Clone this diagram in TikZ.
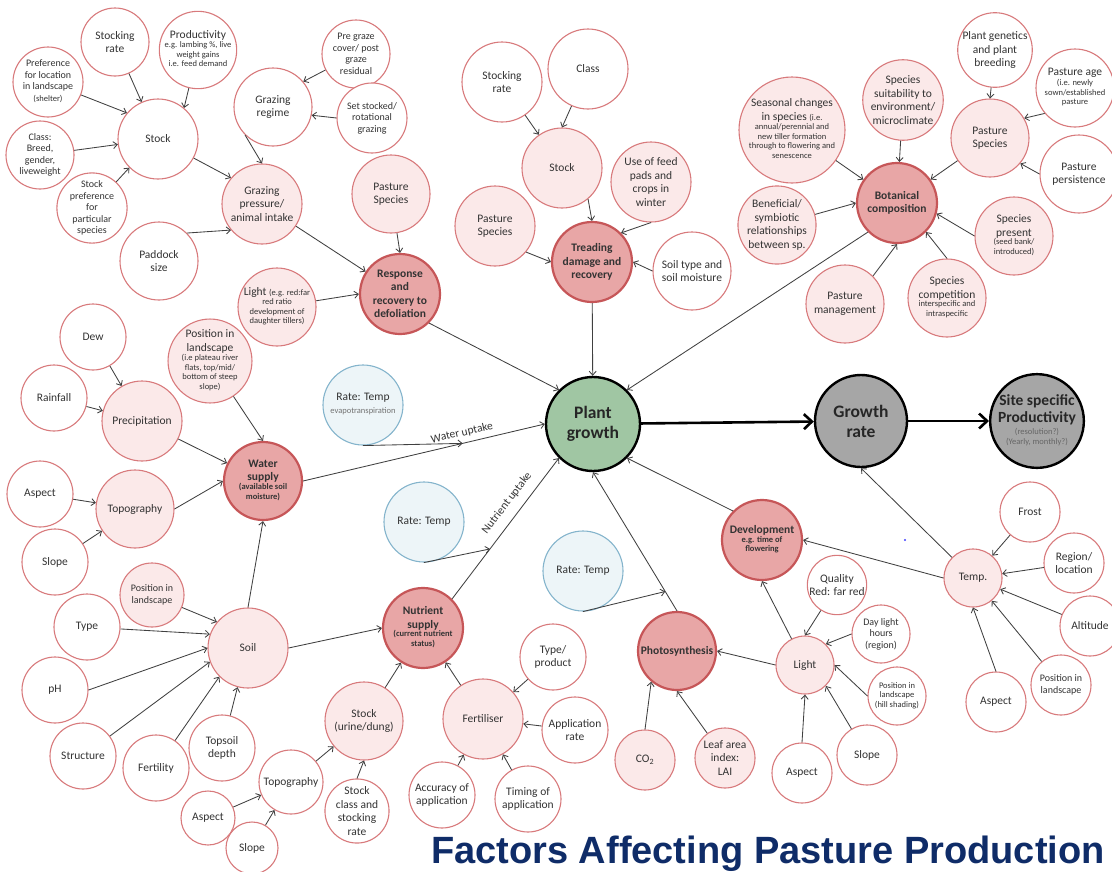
\documentclass[tikz,border=0pt]{standalone}
\usepackage{fontspec}
\setmainfont{Carlito}
\newfontfamily\titlefont{Liberation Sans}
\usetikzlibrary{arrows.meta}

\definecolor{pinkline}{RGB}{216,122,124}
\definecolor{pinkfill}{RGB}{251,233,233}
\definecolor{keyfill}{RGB}{232,166,166}
\definecolor{keyline}{RGB}{198,86,88}
\definecolor{ratefill}{RGB}{237,245,248}
\definecolor{rateline}{RGB}{132,180,204}
\definecolor{plantfill}{RGB}{160,198,163}
\definecolor{greyfill}{RGB}{166,166,166}
\definecolor{arrowgrey}{RGB}{64,64,64}
\definecolor{titleblue}{RGB}{15,44,104}

\newcommand{\mainfnt}{\fontsize{11.5}{13.5}\selectfont}
\newcommand{\midfnt}{\fontsize{10}{11.5}\selectfont}
\newcommand{\smtxt}{\fontsize{8.5}{9.5}\selectfont}
\newcommand{\smblk}[1]{{\smtxt\begin{tabular}{@{}c@{}}#1\end{tabular}}}

\begin{document}
\begin{tikzpicture}[x=1pt,y=1pt,yscale=-1,xscale=1,
  every node/.style={align=center, inner sep=0pt, font=\mainfnt, text=black!80},
  leafnode/.style={circle, draw=pinkline, line width=1.1pt, fill=white, minimum size=#1},
  leafnode/.default=80pt,
  midnode/.style={leafnode=#1, fill=pinkfill},
  midnode/.default=80pt,
  keynode/.style={circle, draw=keyline, line width=2.2pt, fill=keyfill, minimum size=#1, font=\mainfnt\bfseries},
  keynode/.default=80pt,
  ratenode/.style={circle, draw=rateline, line width=1.1pt, fill=ratefill, minimum size=80pt},
  hubnode/.style={circle, draw=black, line width=2.4pt, minimum size=#1, text=black!85, font=\fontsize{17.5}{20}\selectfont\bfseries},
  hubnode/.default=92pt,
  flow/.style={-{Straight Barb[length=4pt,width=7pt]}, draw=arrowgrey, line width=0.85pt},
  mainflow/.style={-{Straight Barb[length=8pt,width=15pt]}, draw=black, line width=2.6pt}]
\useasboundingbox (0,0) rectangle (1112,871);

% Stock and grazing (top left)
\node[leafnode=68pt] (sra) at (115,42) {Stocking\\rate};
\node[leafnode=70pt] (prod) at (198,50) {Productivity\\\smblk{e.g. lambing \%, live\\weight gains\\i.e. feed demand}};
\node[leafnode=70pt, font=\midfnt] (pref) at (48,82) {Preference\\for location\\in landscape\\\smblk{(shelter)}};
\node[leafnode=80pt] (stka) at (158,139) {Stock};
\node[leafnode=68pt, font=\midfnt] (clsa) at (40,155) {Class:\\Breed,\\gender,\\liveweight};
\node[leafnode=70pt, font=\midfnt] (spref) at (92,208) {Stock\\preference\\for\\particular\\species};
\node[leafnode=78pt] (greg) at (273,107) {Grazing\\regime};
\node[leafnode=68pt, font=\midfnt] (pre) at (356,54) {Pre graze\\cover/ post\\graze\\residual};
\node[leafnode=70pt, font=\midfnt] (setst) at (372,118) {Set stocked/\\rotational\\grazing};
\node[midnode=80pt] (gpress) at (262,204) {Grazing\\pressure/\\animal intake};
\node[leafnode=78pt] (pad) at (159,261) {Paddock\\size};
\node[midnode=78pt] (psa) at (391,194) {Pasture\\Species};
\node[keynode] (resp) at (400,294) {Response\\and\\recovery to\\defoliation};
\node[midnode=78pt] (lighta) at (277,307) {Light {\smtxt (e.g. red:far}\\\smblk{red ratio\\development of\\daughter tillers)}};

% Treading (top middle)
\node[leafnode] (srb) at (502,82) {Stocking\\rate};
\node[leafnode] (clsb) at (588,69) {Class};
\node[midnode] (stkb) at (562,168) {Stock};
\node[midnode] (feed) at (651,182) {Use of feed\\pads and\\crops in\\winter};
\node[midnode] (psb) at (495,226) {Pasture\\Species};
\node[keynode] (tread) at (592,262) {Treading\\damage and\\recovery};
\node[leafnode=78pt] (soilt) at (692,271) {Soil type and\\soil moisture};

% Botanical composition (top right)
\node[leafnode=74pt] (gen) at (995,50) {Plant genetics\\and plant\\breeding};
\node[leafnode=78pt] (age) at (1075,88) {Pasture age\\\smblk{(i.e. newly\\sown/established\\pasture}};
\node[midnode=76pt] (suit) at (903,100) {Species\\suitability to\\environment/\\microclimate};
\node[midnode=92pt] (seas) at (792,130) {Seasonal changes\\in species {\smtxt (i.e.}\\\smblk{annual/perennial and\\new tiller formation\\through to flowering and\\senescence}};
\node[midnode=78pt] (psc) at (990,138) {Pasture\\Species};
\node[leafnode=78pt] (pers) at (1079,174) {Pasture\\persistence};
\node[keynode] (bot) at (897,203) {Botanical\\composition};
\node[midnode=78pt] (ben) at (777,225) {Beneficial/\\symbiotic\\relationships\\between sp.};
\node[midnode=78pt] (pres) at (1014,236) {Species\\present\\\smblk{(seed bank/\\introduced)}};
\node[midnode=78pt] (mgmt) at (845,304) {Pasture\\management};
\node[midnode=78pt] (comp) at (947,298) {Species\\competition\\\smblk{interspecific and\\intraspecific}};

% Water supply (left)
\node[leafnode=66pt] (dew) at (93,337) {Dew};
\node[leafnode=66pt] (rain) at (54,398) {Rainfall};
\node[midnode] (posw) at (210,361) {Position in\\landscape\\\smblk{(i.e plateau river\\flats, top/mid/\\bottom of steep\\slope)}};
\node[midnode] (prec) at (142,421) {Precipitation};
\node[ratenode] (ratea) at (363,405) {Rate: Temp\\\smblk{\color{black!55}evapotranspiration}};
\node[keynode=78pt] (water) at (263,481) {Water\\supply\\\smblk{(available soil\\moisture)}};
\node[leafnode=66pt] (aspa) at (40,494) {Aspect};
\node[midnode=78pt] (topa) at (135,509) {Topography};
\node[leafnode=66pt] (slpa) at (55,562) {Slope};

% Growth chain (centre)
\node[hubnode=94pt, fill=plantfill] (plant) at (593,424) {Plant\\growth};
\node[hubnode=92pt, fill=greyfill] (grow) at (861,421) {Growth\\rate};
\node[hubnode=90pt, fill=greyfill, font=\fontsize{15.5}{17}\selectfont\bfseries] (site) at (1037,421) {Site specific\\Productivity\\\smblk{\mdseries\color{black!60}(resolution?)\\\mdseries\color{black!60}(Yearly, monthly?)}};
\node[ratenode] (rateb) at (424,522) {Rate: Temp};
\node[ratenode] (ratec) at (583,571) {Rate: Temp};

% Development and temperature (right)
\node[keynode] (dev) at (762,540) {Development\\\smblk{e.g. time of\\flowering}};
\node[leafnode=60pt] (frost) at (1030,512) {Frost};
\node[leafnode=60pt] (reg) at (1074,563) {Region/\\location};
\node[midnode=58pt] (temp) at (973,578) {Temp.};
\node[leafnode=60pt] (alt) at (1090,626) {Altitude};
\node[leafnode=60pt, font=\midfnt] (post) at (1061,685) {Position in\\landscape};
\node[leafnode=60pt] (aspc) at (996,702) {Aspect};

% Light and photosynthesis (bottom right)
\node[leafnode=58pt] (qual) at (837,585) {Quality\\Red: far red};
\node[leafnode=58pt, font=\midfnt] (day) at (881,634) {Day light\\hours\\(region)};
\node[midnode=58pt] (lightb) at (805,665) {Light};
\node[leafnode=58pt] (posl) at (897,696) {\smblk{Position in\\landscape\\(hill shading)}};
\node[leafnode=60pt] (slpb) at (867,755) {Slope};
\node[leafnode=60pt] (aspb) at (802,773) {Aspect};
\node[keynode=78pt] (photo) at (677,651) {Photosynthesis};
\node[midnode=60pt] (co2) at (645,760) {CO\textsubscript{2}};
\node[midnode=60pt] (lai) at (725,758) {Leaf area\\index:\\LAI};

% Nutrient supply (bottom middle)
\node[keynode] (nut) at (423,628) {Nutrient\\supply\\\smblk{(current nutrient\\status)}};
\node[leafnode=66pt] (typ) at (553,657) {Type/\\product};
\node[midnode] (fert) at (483,719) {Fertiliser};
\node[leafnode=66pt] (apr) at (575,730) {Application\\rate};
\node[leafnode=66pt] (acc) at (442,795) {Accuracy of\\application};
\node[leafnode=66pt] (tim) at (528,799) {Timing of\\application};
\node[midnode=78pt] (stku) at (364,721) {Stock\\(urine/dung)};
\node[leafnode=64pt] (stcl) at (357,811) {Stock\\class and\\stocking\\rate};
\node[leafnode=64pt] (topb) at (291,782) {Topography};
\node[leafnode=54pt] (aspd) at (208,818) {Aspect};
\node[leafnode=52pt] (slpd) at (252,848) {Slope};

% Soil (bottom left)
\node[midnode=64pt, font=\midfnt] (poss) at (152,595) {Position in\\landscape};
\node[leafnode=66pt] (typs) at (87,627) {Type};
\node[leafnode=66pt] (ph) at (55,690) {pH};
\node[midnode] (soil) at (248,648) {Soil};
\node[leafnode=66pt] (struc) at (83,756) {Structure};
\node[leafnode=66pt] (fertl) at (156,768) {Fertility};
\node[leafnode=66pt] (tops) at (222,748) {Topsoil\\depth};

% stray mark
\fill[blue!75] (905,540) circle (1.2pt);

% Title
\node[anchor=base west, font=\titlefont\fontsize{38}{40}\selectfont\bfseries, text=titleblue] (title) at (431,863) {Factors Affecting Pasture Production};

% Uptake labels
\node[rotate=13] (wlab) at (462,433) {Water uptake};
\node[rotate=52.5] (nlab) at (507,503) {Nutrient uptake};

% Connectors: stock and grazing
\draw[flow] (sra) -- (stka);
\draw[flow] (prod) -- (stka.50);
\draw[flow] (pref) -- (stka.140);
\draw[flow] (clsa) -- (stka);
\draw[flow] (spref) -- (stka.-135);
\draw[flow] (stka) -- (gpress.140);
\draw[flow] (pre) -- (greg.40);
\draw[flow] (setst.west) -- (greg.-12);
\draw[flow] (greg.-135) -- (gpress.north);
\draw[flow] (pad.45) -- (gpress.-140);
\draw[flow] (gpress) -- (resp);
\draw[flow] (psa) -- (resp.north);
\draw[flow] (lighta) -- (resp.west);
\draw[flow] (resp.-45) -- (plant.135);

% Connectors: treading
\draw[flow] (srb) -- (stkb);
\draw[flow] (clsb) -- (stkb.north);
\draw[flow] (stkb.-50) -- (tread.north);
\draw[flow] (feed.south) -- (tread.45);
\draw[flow] (psb.-40) -- (tread.west);
\draw[flow] (soilt.west) -- (tread.east);
\draw[flow] (tread) -- (plant);

% Connectors: botanical composition
\draw[flow] (gen) -- (psc.north);
\draw[flow] (age.-140) -- (psc.30);
\draw[flow] (pers.west) -- (psc.-40);
\draw[flow] (psc) -- (bot);
\draw[flow] (seas) -- (bot);
\draw[flow] (suit) -- (bot);
\draw[flow] (ben) -- (bot.west);
\draw[flow] (pres.west) -- (bot.-15);
\draw[flow] (comp.north) -- (bot.-45);
\draw[flow] (mgmt.45) -- (bot.south);
\draw[flow] (bot.-135) -- (plant.45);

% Connectors: water
\draw[flow] (dew) -- (prec);
\draw[flow] (rain) -- (prec);
\draw[flow] (prec) -- (water);
\draw[flow] (posw) -- (water.north);
\draw[flow] (aspa) -- (topa);
\draw[flow] (slpa) -- (topa);
\draw[flow] (topa.east) -- (water.west);
\draw[flow] (soil.north) -- (water.south);
\draw[flow] (water.east) -- coordinate[pos=0.66] (wuhit) (plant.west);
\draw[flow] (ratea.south) -- (wuhit);

% Connectors: nutrients
\draw[flow] (soil.east) -- (nut.west);
\draw[flow] (stku) -- (nut);
\draw[flow] (topb) -- (stku);
\draw[flow] (stcl.north) -- (stku.south);
\draw[flow] (aspd) -- (topb);
\draw[flow] (slpd) -- (topb);
\draw[flow] (fert) -- (nut);
\draw[flow] (typ) -- (fert);
\draw[flow] (apr) -- (fert);
\draw[flow] (acc) -- (fert);
\draw[flow] (tim) -- (fert);
\draw[flow] (nut.45) -- coordinate[pos=0.355] (nuhit) (plant.-135);
\draw[flow] (rateb.south) -- (nuhit);

% Connectors: soil
\draw[flow] (poss) -- (soil.140);
\draw[flow] (typs) -- (soil.160);
\draw[flow] (ph.east) -- (soil.west);
\draw[flow] (struc) -- (soil.200);
\draw[flow] (fertl) -- (soil.225);
\draw[flow] (tops) -- (soil.-105);

% Connectors: light, photosynthesis, temperature
\draw[flow] (photo.north) -- coordinate[pos=0.14] (phhit) (plant.south);
\draw[flow] (ratec.south) -- (phhit);
\draw[flow] (co2.north) -- (photo.-130);
\draw[flow] (lai) -- (photo.south);
\draw[flow] (lightb.west) -- (photo.east);
\draw[flow] (lightb) -- (dev.south);
\draw[flow] (qual) -- (lightb.north);
\draw[flow] (day.west) -- (lightb.45);
\draw[flow] (posl.west) -- (lightb.east);
\draw[flow] (slpb) -- (lightb.-45);
\draw[flow] (aspb.north) -- (lightb.south);
\draw[flow] (dev.135) -- (plant.-45);
\draw[flow] (temp.west) -- (dev.east);
\draw[flow] (temp) -- (grow.south);
\draw[flow] (frost) -- (temp);
\draw[flow] (reg) -- (temp);
\draw[flow] (alt) -- (temp);
\draw[flow] (post) -- (temp);
\draw[flow] (aspc.north) -- (temp.south);

% Main chain
\draw[mainflow] (plant) -- (grow);
\draw[mainflow] (grow) -- (site);

\end{tikzpicture}
\end{document}
